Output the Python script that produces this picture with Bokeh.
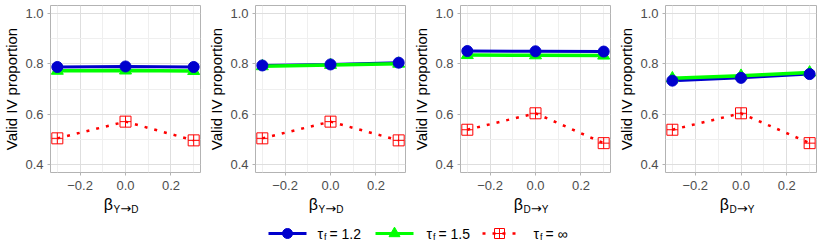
from bokeh.plotting import figure
from bokeh.models import Range1d, FixedTicker
from bokeh.layouts import row, column
from bokeh.core.properties import value
from bokeh.embed import file_html
from bokeh.resources import INLINE

# ---------------- data ----------------
beta = [-0.3, 0.0, 0.3]
x_title_from = ["Y", "Y", "D", "D"]
x_title_to = ["D", "D", "Y", "Y"]
tau_12 = [[0.787, 0.789, 0.787],
          [0.793, 0.797, 0.804],
          [0.850, 0.849, 0.848],
          [0.733, 0.744, 0.759]]
tau_15 = [[0.772, 0.773, 0.771],
          [0.790, 0.795, 0.800],
          [0.834, 0.833, 0.832],
          [0.742, 0.752, 0.765]]
tau_inf = [[0.505, 0.571, 0.497],
           [0.505, 0.571, 0.497],
           [0.539, 0.604, 0.486],
           [0.539, 0.604, 0.486]]
legend_values = ["1.2", "1.5", "∞"]
x_ticks = [-0.2, 0.0, 0.2]
x_tick_labels = ["−0.2", "0.0", "0.2"]
x_minor = [-0.3, -0.1, 0.1, 0.3]
y_ticks = [0.4, 0.6, 0.8, 1.0]
y_tick_labels = ["0.4", "0.6", "0.8", "1.0"]
y_minor = [0.5, 0.7, 0.9]
y_title = "Valid IV proportion"

# ---------------- style ----------------
FONT = "Liberation Sans"
BLUE = "#0000CD"
GREEN = "#00FF00"
RED = "#FF0000"
XR = (-0.33, 0.33)
YR = (0.37, 1.03)
FRAME_W = 155
FRAME_H = 167
TOP = 5
BOTTOM = 23
LEFTS = [45, 45, 45, 46]
RIGHTS = [5, 5, 5, 6]
DOTS = "3 7"
SUB_W = {"Y": 6.8, "D": 7.3}   # approx. advance of 10px subscript letters
ARROW_W = 11.0


def make_panel(i):
    w = LEFTS[i] + FRAME_W + RIGHTS[i]
    h = TOP + FRAME_H + BOTTOM
    p = figure(width=w, height=h, x_range=Range1d(*XR), y_range=Range1d(*YR),
               output_backend="svg", toolbar_location=None,
               min_border_left=LEFTS[i], min_border_right=RIGHTS[i],
               min_border_top=TOP, min_border_bottom=BOTTOM)
    p.background_fill_color = "white"
    p.border_fill_color = "white"
    p.outline_line_color = "#B3B3B3"
    p.outline_line_width = 1

    xt = FixedTicker(ticks=x_ticks, minor_ticks=x_minor)
    yt = FixedTicker(ticks=y_ticks, minor_ticks=y_minor)
    p.xaxis.ticker = xt
    p.yaxis.ticker = yt
    p.xgrid.ticker = xt
    p.ygrid.ticker = yt
    p.xaxis.major_label_overrides = {t: l for t, l in zip(x_ticks, x_tick_labels)}
    p.yaxis.major_label_overrides = {t: l for t, l in zip(y_ticks, y_tick_labels)}
    for ax in (p.xaxis, p.yaxis):
        ax.axis_line_color = None
        ax.major_tick_line_color = "#B3B3B3"
        ax.major_tick_out = 3
        ax.major_tick_in = 0
        ax.minor_tick_line_color = None
        ax.major_label_text_font = FONT
        ax.major_label_text_font_size = "13px"
        ax.major_label_text_color = "#4D4D4D"
    p.xaxis.major_label_standoff = 4
    p.yaxis.major_label_standoff = 3
    p.yaxis.axis_label = y_title
    p.yaxis.axis_label_text_font = FONT
    p.yaxis.axis_label_text_font_size = "15px"
    p.yaxis.axis_label_text_font_style = "normal"
    p.yaxis.axis_label_text_color = "black"
    p.yaxis.axis_label_standoff = 2

    for g in (p.xgrid, p.ygrid):
        g.grid_line_color = "#DEDEDE"
        g.grid_line_width = 1
        g.minor_grid_line_color = "#EFEFEF"
        g.minor_grid_line_width = 1

    # lines
    p.line(beta, tau_12[i], line_color=BLUE, line_width=3)
    p.line(beta, tau_15[i], line_color=GREEN, line_width=3.5)
    p.line(beta, tau_inf[i], line_color=RED, line_width=2.5, line_dash=DOTS)
    # markers
    p.scatter(beta, tau_15[i], marker="triangle", size=12, fill_color=GREEN, line_color=GREEN)
    p.scatter(beta, tau_12[i], marker="circle", size=11, fill_color=BLUE, line_color=BLUE)
    p.scatter(beta, tau_inf[i], marker="square_cross", size=11, fill_color=None,
              line_color=RED, line_width=1)
    return p


panels = [make_panel(i) for i in range(4)]
total_w = sum(pp.width for pp in panels)

# ---------------- bottom strip: x-axis titles and legend ----------------
SH = 50
strip = figure(width=total_w, height=SH, x_range=Range1d(0, total_w), y_range=Range1d(0, SH),
               output_backend="svg", toolbar_location=None, min_border=0,
               x_axis_type=None, y_axis_type=None)
strip.outline_line_color = None
strip.grid.visible = False
strip.background_fill_color = "white"
strip.border_fill_color = "white"


def sub_text(x, y, s, font, size):
    strip.text([x], [y], text=[s], text_font=value(font), text_font_size=size,
               text_baseline="middle", text_align="left", text_color="black")


# axis titles, centred under each panel frame
offset = 0
for i, pp in enumerate(panels):
    xc = offset + LEFTS[i] + FRAME_W / 2
    strip.text([xc - 10], [SH - 9], text=["β"], text_font=value(FONT), text_font_size="16px",
               text_baseline="middle", text_align="right", text_color="black")
    xs = xc - 9.5
    ys = SH - 13.5
    sub_text(xs, ys, x_title_from[i], FONT, "10px")
    xs += SUB_W[x_title_from[i]]
    sub_text(xs, ys + 0.5, "→", "DejaVu Sans", "13px")
    xs += ARROW_W
    sub_text(xs, ys, x_title_to[i], FONT, "10px")
    offset += pp.width

# legend
yc = 12
starts = [268, 375, 482]
colors = [BLUE, GREEN, RED]
markers = ["circle", "triangle", "square_cross"]
text_x = [317, 426, 533]
for k in range(3):
    x0 = starts[k]
    if k < 2:
        strip.line([x0, x0 + 38], [yc, yc], line_color=colors[k], line_width=3)
        strip.scatter([x0 + 19], [yc], marker=markers[k], size=10 if k == 0 else 11,
                      fill_color=colors[k], line_color=colors[k])
    else:
        strip.line([x0, x0 + 36], [yc, yc], line_color=RED, line_width=2.5, line_dash=DOTS)
        strip.scatter([x0 + 17], [yc], marker="square_cross", size=10, fill_color=None,
                      line_color=RED, line_width=1)
    tx = text_x[k]
    strip.text([tx], [yc], text=["τ"], text_font=value(FONT), text_font_size="14px",
               text_baseline="middle", text_align="left", text_color="black")
    strip.text([tx + 6.5], [yc - 3], text=["f"], text_font=value(FONT), text_font_size="9px",
               text_baseline="middle", text_align="left", text_color="black")
    strip.text([tx + 12], [yc], text=["= " + legend_values[k]], text_font=value(FONT),
               text_font_size="14px", text_baseline="middle", text_align="left",
               text_color="black")

layout = column(row(*panels), strip)
open("out.html", "w").write(file_html(layout, INLINE))
